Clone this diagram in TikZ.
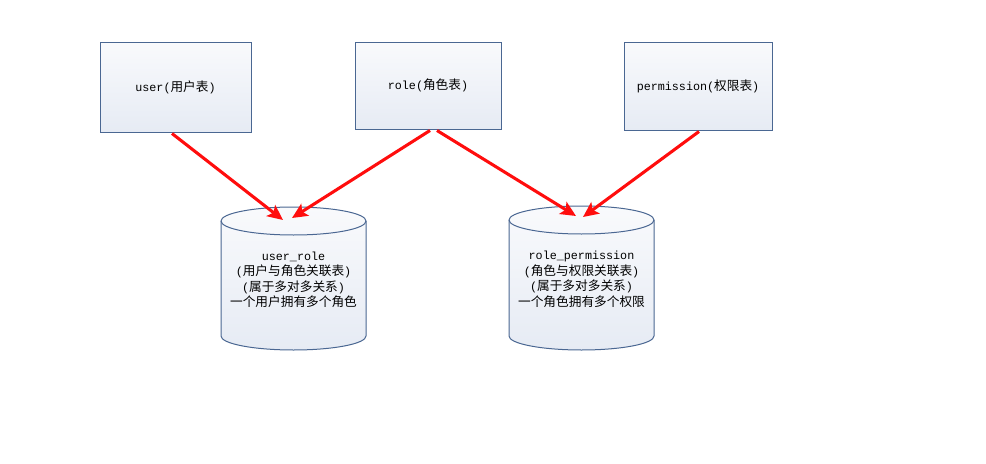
\documentclass[tikz,border=0pt]{standalone}
\usepackage{fontspec}
\setmainfont{Liberation Mono}
\newfontfamily\cjk[Scale=1.08]{Noto Sans CJK SC}
\usetikzlibrary{arrows.meta,shadows,calc}
\definecolor{boxborder}{HTML}{4A6792}
\definecolor{filltop}{HTML}{F9FAFC}
\definecolor{fillbot}{HTML}{E6EBF4}
\definecolor{arrowred}{HTML}{FF0D0D}
\tikzset{
  tablebox/.style={draw=boxborder, line width=0.75pt, top color=filltop, bottom color=fillbot,
    drop shadow={shadow xshift=1pt, shadow yshift=-1pt, opacity=0.08},
    font=\fontsize{8.8}{11}\selectfont, inner sep=0pt},
  cyltext/.style={align=center, font=\fontsize{8.8}{11.6}\selectfont, inner sep=0pt,
    minimum width=108.75pt, minimum height=107.25pt},
  relarrow/.style={draw=arrowred, line width=2.3pt,
    -{Stealth[length=11.5pt, width=10.5pt, inset=2.5pt]}},
  cylshape/.style={draw=boxborder, line width=0.75pt, top color=filltop, bottom color=fillbot},
}
\begin{document}
\begin{tikzpicture}[x=0.75pt, y=-0.75pt]
\useasboundingbox (0,0) rectangle (986,464);
\fill[white] (0,0) rectangle (986,464);

% table boxes
\node[tablebox, minimum width=113.25pt, minimum height=67.5pt] (user) at (175.5,87) {user({\cjk 用户表})};
\node[tablebox, minimum width=109.5pt, minimum height=65.25pt] (role) at (428,85.5) {role({\cjk 角色表})};
\node[tablebox, minimum width=111pt, minimum height=66pt] (perm) at (698,86) {permission({\cjk 权限表})};

% cylinders
\foreach \cx/\top in {293.5/207, 581.5/206}{
  \path[cylshape] (\cx-72.5,\top+14) -- (\cx-72.5,336)
     arc[start angle=180, end angle=360, x radius=54.375pt, y radius=10.5pt]
     -- (\cx+72.5,\top+14)
     arc[start angle=0, end angle=180, x radius=54.375pt, y radius=10.5pt] -- cycle;
  \draw[boxborder, line width=0.75pt] (\cx-72.5,\top+14)
     arc[start angle=180, end angle=360, x radius=54.375pt, y radius=10.5pt];
}
\node[cyltext] (ur) at (293.5,280) {user\_role\\({\cjk 用户与角色关联表})\\({\cjk 属于多对多关系})\\{\cjk 一个用户拥有多个角色}};
\node[cyltext] (rp) at (581.5,279.5) {role\_permission\\({\cjk 角色与权限关联表})\\({\cjk 属于多对多关系})\\{\cjk 一个角色拥有多个权限}};

% arrow end points
\coordinate (urA) at ($(ur.center)+(-10.5,-60)$);
\coordinate (urB) at ($(ur.center)+(-1.5,-62)$);
\coordinate (rpA) at ($(rp.center)+(-5.5,-63.5)$);
\coordinate (rpB) at ($(rp.center)+(1.5,-62.5)$);

\draw[relarrow] ($(user.south)+(-3.5,1)$) -- (urA);
\draw[relarrow] ($(role.south)+(2,1)$) -- (urB);
\draw[relarrow] ($(role.south)+(9,1)$) -- (rpA);
\draw[relarrow] ($(perm.south)+(1,1)$) -- (rpB);
\end{tikzpicture}
\end{document}
